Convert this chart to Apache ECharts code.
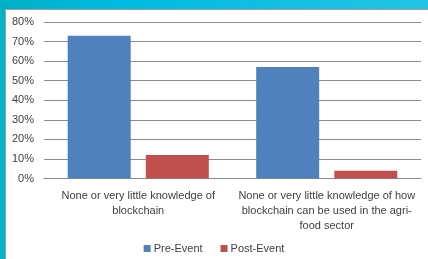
<!DOCTYPE html>
<html>
<head>
<meta charset="utf-8">
<script src="https://cdn.jsdelivr.net/npm/echarts@6/dist/echarts.min.js"></script>
<style>
  html, body { margin: 0; padding: 0; background: #fff; }
  #chart { width: 428px; height: 259px; }
</style>
</head>
<body>
<div id="chart"></div>
<script>
// 类目（轴标签里手动换行）
const categories = [
  'None or very little knowledge of\nblockchain',
  'None or very little knowledge of how\nblockchain can be used in the agri-\nfood sector'
]
const preEvent = [73, 57]   // 事件前
const postEvent = [12, 4]   // 事件后
const yTicks = [0, 10, 20, 30, 40, 50, 60, 70, 80]

const chart = echarts.init(document.getElementById('chart'))
chart.setOption({
  animation: false,
  textStyle: { fontFamily: 'Liberation Sans, Arial, sans-serif' },
  graphic: [
    // 外框：左侧青色条 + 顶部渐变条
    { type: 'rect', shape: { x: 0, y: 0, width: 6, height: 259 }, style: { fill: '#00b4c8' }, z: -10 },
    {
      type: 'rect',
      shape: { x: 0, y: 0, width: 428, height: 9 },
      style: {
        fill: new echarts.graphic.LinearGradient(0, 0, 1, 0, [
          { offset: 0, color: '#00b0c8' },
          { offset: 0.3, color: '#00bce2' },
          { offset: 1, color: '#22c4e4' }
        ])
      },
      z: -10
    },
    { type: 'line', shape: { x1: 5.5, y1: 9, x2: 5.5, y2: 259 }, style: { stroke: '#9aa0a6', lineWidth: 1 }, z: -9 },
    { type: 'line', shape: { x1: 6, y1: 9.5, x2: 428, y2: 9.5 }, style: { stroke: '#9aa0a6', lineWidth: 1 }, z: -9 }
  ],
  grid: { left: 44, right: 7, top: 22, bottom: 80.5 },
  legend: {
    top: 238,
    left: 'center',
    itemWidth: 7,
    itemHeight: 7,
    itemGap: 18,
    icon: 'rect',
    textStyle: { fontSize: 11, color: '#404040', padding: [0, 0, 0, -2] },
    data: ['Pre-Event', 'Post-Event']
  },
  xAxis: {
    type: 'category',
    data: categories,
    axisLine: { lineStyle: { color: '#8c8c8c' } },
    axisTick: { show: false },
    axisLabel: { fontSize: 11, color: '#404040', lineHeight: 15, margin: 10, interval: 0 }
  },
  yAxis: {
    type: 'value',
    min: yTicks[0],
    max: yTicks[yTicks.length - 1],
    interval: 10,
    axisLine: { show: false },
    axisTick: { show: false },
    axisLabel: { fontSize: 11, color: '#404040', margin: 10, formatter: '{value}%' },
    splitLine: { lineStyle: { color: '#8c8c8c', width: 1 } }
  },
  series: [
    {
      name: 'Pre-Event',
      type: 'bar',
      data: preEvent,
      barWidth: 63,
      barGap: '24%',
      itemStyle: { color: '#4f81bd' }
    },
    {
      name: 'Post-Event',
      type: 'bar',
      data: postEvent,
      barWidth: 63,
      itemStyle: { color: '#c0504d' }
    }
  ]
})
</script>
</body>
</html>
